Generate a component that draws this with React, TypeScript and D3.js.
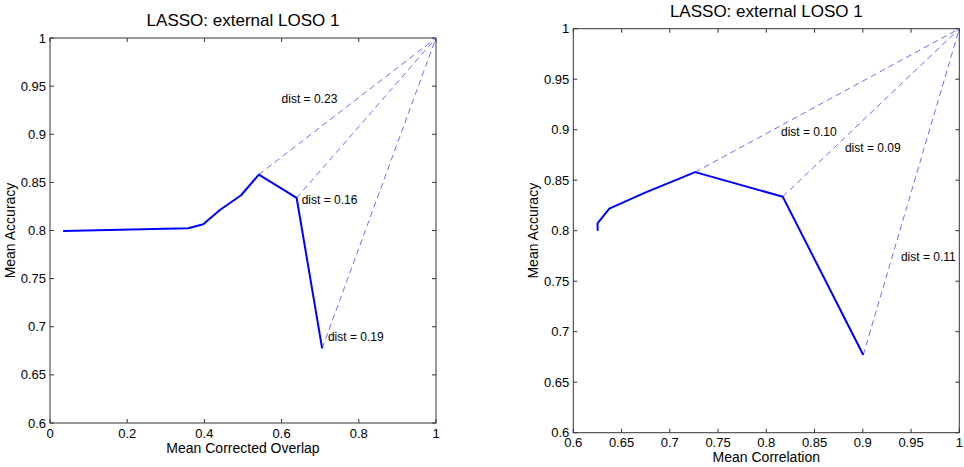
import React from "react";
import * as d3 from "d3";

// values
const overlap = [0.034, 0.358, 0.397, 0.44, 0.495, 0.541, 0.639, 0.705];
const overlapAccuracy = [0.7995, 0.8023, 0.8064, 0.8213, 0.8366, 0.8581, 0.8338, 0.6776];
const overlapDistFrom = [5, 6, 7];
const overlapDistText = ["dist = 0.23", "dist = 0.16", "dist = 0.19"];
const overlapDistAt = [[0.6, 0.9325], [0.652, 0.8275], [0.72, 0.6852]];

const correlation = [0.6253, 0.6251, 0.6373, 0.675, 0.7263, 0.817, 0.9005];
const correlationAccuracy = [0.8, 0.8073, 0.8218, 0.838, 0.858, 0.8337, 0.677];
const correlationDistFrom = [4, 5, 6];
const correlationDistText = ["dist = 0.10", "dist = 0.09", "dist = 0.11"];
const correlationDistAt = [[0.8152, 0.8938], [0.8815, 0.8776], [0.9395, 0.7703]];

const overlapTicks = [0, 0.2, 0.4, 0.6, 0.8, 1];
const correlationTicks = [0.6, 0.65, 0.7, 0.75, 0.8, 0.85, 0.9, 0.95, 1];
const accuracyTicks = [0.6, 0.65, 0.7, 0.75, 0.8, 0.85, 0.9, 0.95, 1];

const title = "LASSO: external LOSO 1";
const font = "'Liberation Sans', Arial, Helvetica, sans-serif";

const fmt = (v: number) => {
  const s = String(+v.toFixed(2));
  return s === "0.8" && false ? s : s;
};

type PanelProps = {
  xs: number[];
  ys: number[];
  xDomain: [number, number];
  xTicks: number[];
  xLabel: string;
  distFrom: number[];
  distText: string[];
  distAt: number[][];
  box: { left: number; right: number; top: number; bottom: number };
  yTickFmt: (v: number) => string;
  xLabelY: number;
  yLabelX: number;
};

function Panel(p: PanelProps) {
  const x = d3.scaleLinear().domain(p.xDomain).range([p.box.left, p.box.right]);
  const y = d3.scaleLinear().domain([0.6, 1]).range([p.box.bottom, p.box.top]);
  const pts = p.xs.map((v, i) => [v, p.ys[i]] as [number, number]);
  const line = d3
    .line<[number, number]>()
    .x((d) => x(d[0]))
    .y((d) => y(d[1]));
  const tick = 4;
  const axisColor = "#333";
  return (
    <g fontFamily={font}>
      <text
        x={(p.box.left + p.box.right) / 2}
        y={p.box.top - 12}
        textAnchor="middle"
        fontSize={17}
      >
        {title}
      </text>
      {p.xTicks.map((t) => (
        <g key={"x" + t}>
          <line x1={x(t)} x2={x(t)} y1={p.box.bottom} y2={p.box.bottom - tick} stroke={axisColor} />
          <line x1={x(t)} x2={x(t)} y1={p.box.top} y2={p.box.top + tick} stroke={axisColor} />
          <text x={x(t)} y={p.box.bottom + 14.5} textAnchor="middle" fontSize={13}>
            {fmt(t)}
          </text>
        </g>
      ))}
      {accuracyTicks.map((t) => (
        <g key={"y" + t}>
          <line x1={p.box.left} x2={p.box.left + tick} y1={y(t)} y2={y(t)} stroke={axisColor} />
          <line x1={p.box.right} x2={p.box.right - tick} y1={y(t)} y2={y(t)} stroke={axisColor} />
          <text x={p.box.left - 4} y={y(t)} dy="0.35em" textAnchor="end" fontSize={13}>
            {p.yTickFmt(t)}
          </text>
        </g>
      ))}
      <rect
        x={p.box.left}
        y={p.box.top}
        width={p.box.right - p.box.left}
        height={p.box.bottom - p.box.top}
        fill="none"
        stroke={axisColor}
      />
      {p.distFrom.map((i) => (
        <line
          key={"d" + i}
          x1={x(p.xs[i])}
          y1={y(p.ys[i])}
          x2={x(1)}
          y2={y(1)}
          stroke="#6f6fff"
          strokeWidth={1}
          strokeDasharray="6,4"
        />
      ))}
      <path d={line(pts) ?? ""} fill="none" stroke="#0000ff" strokeWidth={2} strokeLinejoin="round" />
      {p.distText.map((t, i) => (
        <text key={t} x={x(p.distAt[i][0])} y={y(p.distAt[i][1])} fontSize={12}>
          {t}
        </text>
      ))}
      <text
        x={(p.box.left + p.box.right) / 2}
        y={p.xLabelY}
        textAnchor="middle"
        fontSize={14}
      >
        {p.xLabel}
      </text>
      <text
        transform={`translate(${p.yLabelX},${(p.box.top + p.box.bottom) / 2}) rotate(-90)`}
        textAnchor="middle"
        fontSize={14}
      >
        Mean Accuracy
      </text>
    </g>
  );
}

export default function App() {
  return (
    <svg
      width={964}
      height={467}
      style={{ position: "absolute", left: 0, top: 0, background: "#fff" }}
    >
      <Panel
        xs={overlap}
        ys={overlapAccuracy}
        xDomain={[0, 1]}
        xTicks={overlapTicks}
        xLabel="Mean Corrected Overlap"
        distFrom={overlapDistFrom}
        distText={overlapDistText}
        distAt={overlapDistAt}
        box={{ left: 50, right: 436, top: 38, bottom: 423 }}
        yTickFmt={(v) => (v === 0.8 ? "0.8" : String(+v.toFixed(2)))}
        xLabelY={452.5}
        yLabelX={15}
      />
      <Panel
        xs={correlation}
        ys={correlationAccuracy}
        xDomain={[0.6, 1]}
        xTicks={correlationTicks}
        xLabel="Mean Correlation"
        distFrom={correlationDistFrom}
        distText={correlationDistText}
        distAt={correlationDistAt}
        box={{ left: 573.3, right: 959.3, top: 28.7, bottom: 432.7 }}
        yTickFmt={(v) => String(+v.toFixed(2))}
        xLabelY={462}
        yLabelX={538}
      />
    </svg>
  );
}
